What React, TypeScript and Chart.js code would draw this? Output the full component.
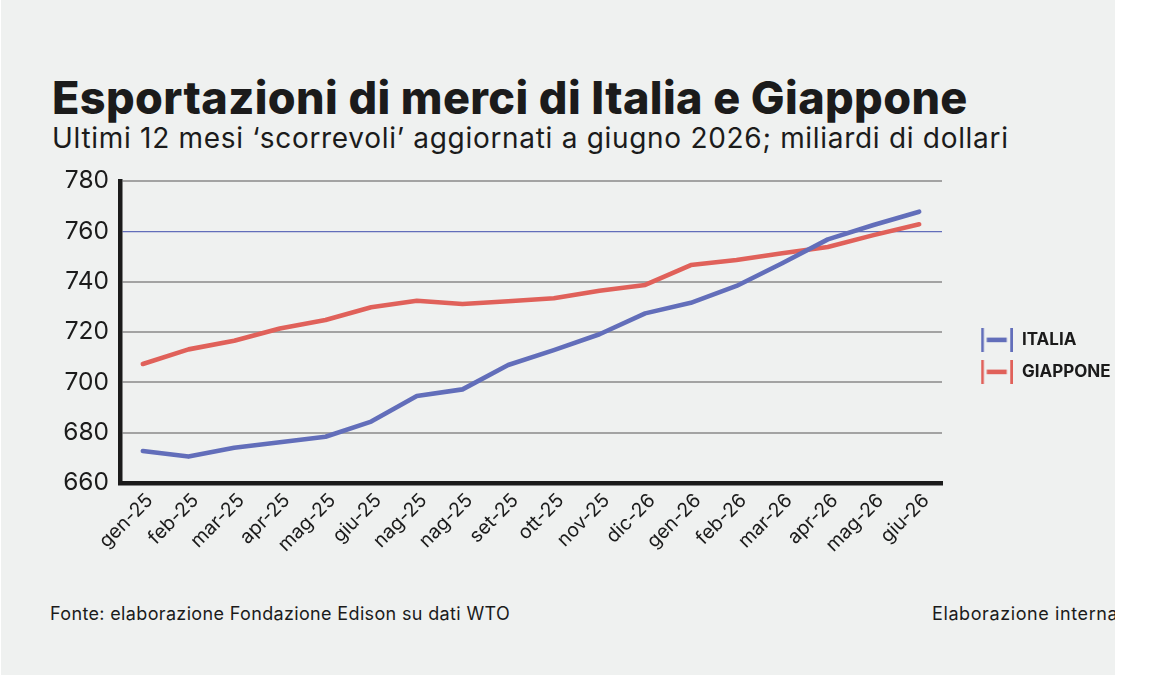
import React, { useEffect, useRef } from "react";
import { Chart, registerables } from "chart.js";

Chart.register(...registerables);

const months = [
  "gen-25", "feb-25", "mar-25", "apr-25", "mag-25", "giu-25",
  "nag-25", "nag-25", "set-25", "ott-25", "nov-25", "dic-26",
  "gen-26", "feb-26", "mar-26", "apr-26", "mag-26", "giu-26",
];
const italia = [
  672.7, 670.5, 674.0, 676.2, 678.4, 684.4, 694.6, 697.2, 706.9,
  712.8, 719.1, 727.4, 731.6, 738.3, 747.3, 756.8, 762.5, 767.8,
];
const giappone = [
  707.3, 713.1, 716.5, 721.4, 724.8, 729.8, 732.4, 731.1, 732.2,
  733.4, 736.4, 738.7, 746.6, 748.6, 751.3, 753.8, 758.5, 762.8,
];
const seriesNames = ["ITALIA", "GIAPPONE"];
const yMin = 660;
const yMax = 780;
const yStep = 20;
const highlightedGrid = 760;

const title = "Esportazioni di merci di Italia e Giappone";
const subtitle = "Ultimi 12 mesi \u2018scorrevoli\u2019 aggiornati a giugno 2026; miliardi di dollari";
const source = "Fonte: elaborazione Fondazione Edison su dati WTO";
const credit = "Elaborazione interna";

const BLUE = "#626eba";
const RED = "#e0615a";
const INK = "#1b1b1b";
const GRID = "#a3a3a3";
const BG = "#eff1f0";
const FONT = "Inter, 'Noto Sans', sans-serif";

function makeMarker(color: string): HTMLCanvasElement {
  const c = document.createElement("canvas");
  c.width = 56;
  c.height = 24;
  const g = c.getContext("2d")!;
  g.fillStyle = color;
  g.fillRect(24, 0, 2.6, 24);
  g.fillRect(29.5, 9.6, 20, 4.6);
  g.fillRect(53, 0, 3, 24);
  return c;
}

export default function App() {
  const ref = useRef<HTMLCanvasElement | null>(null);

  useEffect(() => {
    if (!ref.current) return;
    const chart = new Chart(ref.current, {
      type: "line",
      data: {
        labels: months,
        datasets: [
          {
            label: seriesNames[0],
            data: italia,
            borderColor: BLUE,
            backgroundColor: BLUE,
            borderWidth: 4.6,
            pointRadius: 0,
            pointHoverRadius: 0,
            pointStyle: makeMarker(BLUE) as any,
            tension: 0,
            borderCapStyle: "round",
            borderJoinStyle: "round",
          },
          {
            label: seriesNames[1],
            data: giappone,
            borderColor: RED,
            backgroundColor: RED,
            borderWidth: 4.6,
            pointRadius: 0,
            pointHoverRadius: 0,
            pointStyle: makeMarker(RED) as any,
            tension: 0,
            borderCapStyle: "round",
            borderJoinStyle: "round",
          },
        ],
      },
      options: {
        responsive: false,
        animation: false,
        events: [],
        layout: { padding: { top: 29, bottom: 0, left: 0, right: 0 } },
        plugins: {
          tooltip: { enabled: false },
          legend: {
            position: "right",
            align: "start",
            maxWidth: 173,
            title: {
              display: true,
              text: "",
              padding: { top: 123.5, bottom: 0 },
              font: { size: 10, lineHeight: 1.2 },
            },
            labels: {
              usePointStyle: true,
              pointStyleWidth: 56.5,
              padding: 15,
              color: INK,
              textAlign: "left",
              font: { family: FONT, size: 17, weight: "bold" },
            },
          },
        },
        scales: {
          x: {
            type: "category",
            offset: true,
            grid: { display: false, drawTicks: false },
            border: { display: true, color: INK, width: 4.5 },
            ticks: {
              autoSkip: false,
              minRotation: 45,
              maxRotation: 45,
              padding: 6,
              labelOffset: 7,
              color: INK,
              font: { family: FONT, size: 19.5 },
            },
            afterFit: (s: any) => {
              s.height = 99;
            },
          },
          y: {
            min: yMin,
            max: yMax,
            ticks: {
              stepSize: yStep,
              padding: 11,
              color: INK,
              font: { family: FONT, size: 24.5 },
            },
            grid: {
              drawTicks: false,
              color: (ctx: any) =>
                ctx.tick && ctx.tick.value === highlightedGrid ? BLUE : GRID,
              lineWidth: (ctx: any) =>
                ctx.tick && ctx.tick.value === highlightedGrid ? 1.3 : 2,
            },
            border: { display: true, color: INK, width: 4.5 },
            afterFit: (s: any) => {
              s.width = 120;
            },
          },
        },
      },
    });
    return () => chart.destroy();
  }, []);

  return (
    <div
      style={{
        position: "absolute",
        left: 0,
        top: 0,
        width: 1165,
        height: 677,
        background: "#ffffff",
        overflow: "hidden",
        fontFamily: FONT,
        color: INK,
      }}
    >
      <div
        style={{
          position: "absolute",
          left: 1,
          top: 0,
          width: 1114,
          height: 675,
          background: BG,
          overflow: "hidden",
        }}
      >
        <div
          style={{
            position: "absolute",
            left: 51,
            top: 75,
            fontSize: 45,
            lineHeight: "45px",
            fontWeight: 800,
            letterSpacing: 0.38,
            whiteSpace: "nowrap",
          }}
        >
          {title}
        </div>
        <div
          style={{
            position: "absolute",
            left: 51,
            top: 124,
            fontSize: 28,
            lineHeight: "28px",
            fontWeight: 400,
            letterSpacing: 0.7,
            whiteSpace: "nowrap",
          }}
        >
          {subtitle}
        </div>
        <div
          style={{
            position: "absolute",
            left: 49,
            top: 605,
            fontSize: 18,
            lineHeight: "18px",
            letterSpacing: 0.35,
            whiteSpace: "nowrap",
          }}
        >
          {source}
        </div>
        <div
          style={{
            position: "absolute",
            left: 931,
            top: 605,
            fontSize: 18,
            lineHeight: "18px",
            letterSpacing: 0.6,
            whiteSpace: "nowrap",
          }}
        >
          {credit}
        </div>
      </div>
      <canvas
        ref={ref}
        width={1115}
        height={430}
        style={{ position: "absolute", left: 0, top: 152, width: 1115, height: 430 }}
      />
    </div>
  );
}
